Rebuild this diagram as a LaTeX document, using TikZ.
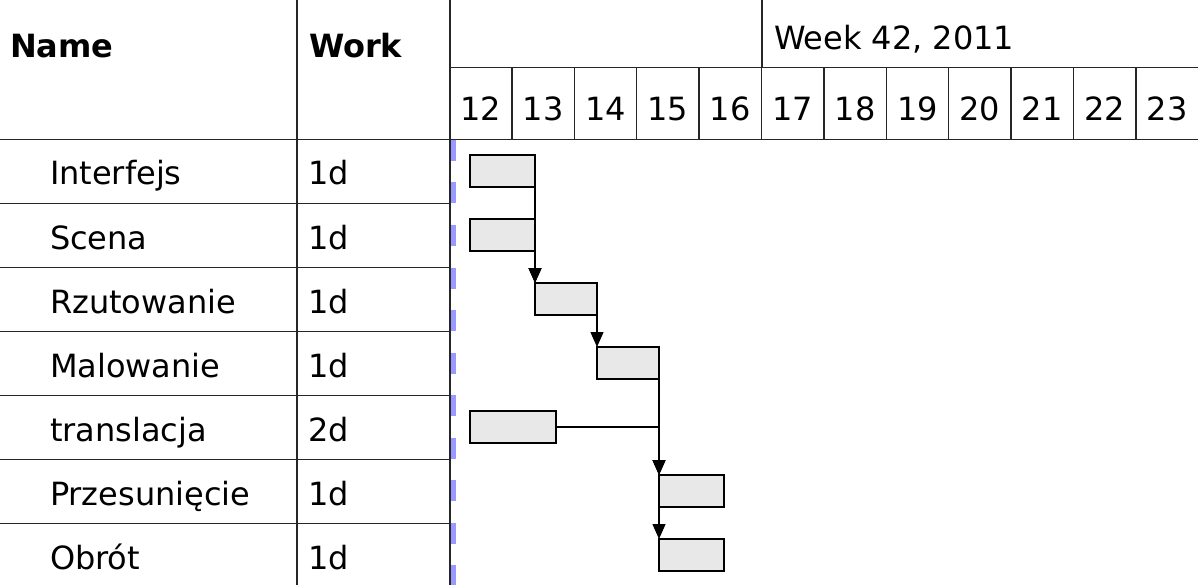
\documentclass[tikz,border=0pt]{standalone}
\usepackage{fontspec}
\setmainfont{DejaVu Sans}
\usetikzlibrary{arrows.meta}
\begin{document}
\begin{tikzpicture}[x=1pt,y=-1pt,
  grid/.style={line width=1.3pt,black!85},
  txt/.style={inner sep=0pt,outer sep=0pt,font=\fontsize{32}{38}\selectfont},
  hdr/.style={txt,font=\fontsize{32}{38}\selectfont\bfseries},
  bar/.style={draw=black,line width=1.2pt,fill=black!9,inner sep=0pt,outer sep=0pt,minimum height=32pt,anchor=north west},
  arr/.style={line width=1.3pt,-{Triangle[width=13pt,length=15pt]}},
  link/.style={line width=1.3pt}]
\useasboundingbox (0,0) rectangle (1198,585);
% grid
\draw[grid] (297,0) -- (297,585);
\draw[grid] (450,0) -- (450,585);
\draw[grid] (0,139.3) -- (1198,139.3);
\draw[grid] (450,67.5) -- (1198,67.5);
\draw[grid] (762,0) -- (762,67.5);
\foreach \k in {1,...,11} {\draw[grid] ({449.5+62.4*\k},67.5) -- ({449.5+62.4*\k},139.3);}
\foreach \r in {1,...,6} {\draw[grid] (0,{139.3+64*\r}) -- (450,{139.3+64*\r});}
% today line
\draw[blue!40,line width=5pt,dash pattern=on 21pt off 21.5pt] (453,140) -- (453,585);
% header text
\node[hdr,anchor=base west] (hname) at (10,58) {Name};
\node[hdr,anchor=base west] (hwork) at (309,58) {Work};
\node[txt,anchor=base west] (hweek) at (774,50) {Week 42, 2011};
\foreach \d [count=\i from 0] in {12,...,23} {
  \node[txt,anchor=base] (d\d) at ({449.5+62.4*\i+31.2},121) {\d};
}
% rows
\foreach \n/\w [count=\i from 0] in {Interfejs/1d,Scena/1d,Rzutowanie/1d,Malowanie/1d,translacja/2d,Przesunięcie/1d,Obrót/1d} {
  \node[txt,anchor=base west] (n\i) at (50,{185+64*\i}) {\n};
  \node[txt,anchor=base west] (w\i) at (308,{185+64*\i}) {\w};
}
% bars
\node[bar,minimum width=65pt] (b1) at (470,155) {};
\node[bar,minimum width=65pt] (b2) at (470,219) {};
\node[bar,minimum width=62pt] (b3) at (535,283) {};
\node[bar,minimum width=62pt] (b4) at (597,347) {};
\node[bar,minimum width=86pt] (b5) at (470,411) {};
\node[bar,minimum width=65pt] (b6) at (659,475) {};
\node[bar,minimum width=65pt] (b7) at (659,539) {};
% connectors
\draw[arr] (b1.east) -- (b3.north west);
\draw[arr] (b2.east) -- (b3.north west);
\draw[arr] (b3.east) -- (b4.north west);
\draw[arr] (b4.east) -- (b6.north west);
\draw[arr] (b5.east) -| (b6.north west);
\draw[arr] (b6.west) -- (b7.north west);
\end{tikzpicture}
\end{document}
